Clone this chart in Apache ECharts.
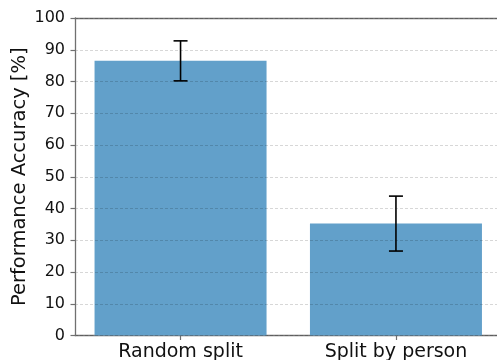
<!DOCTYPE html>
<html><head><meta charset="utf-8">
<script src="https://cdn.jsdelivr.net/npm/echarts@6/dist/echarts.min.js"></script>
<style>html,body{margin:0;padding:0;background:#fff}#c{width:497px;height:360px}</style>
</head><body><div id="c"></div>
<script>
const categories = ["Random split", "Split by person"];
const accuracy = [86.5, 35.3];
const errLow = [80.2, 26.6];
const errHigh = [92.8, 43.9];
const yTicks = [0, 10, 20, 30, 40, 50, 60, 70, 80, 90, 100];

const chart = echarts.init(document.getElementById('c'), null, {renderer: 'canvas'});
const font = 'DejaVu Sans';
const spine = {color: '#707070', width: 1.3};
const tick = {color: '#707070', width: 1.2};
chart.setOption({
  animation: false,
  grid: {left: 75, top: 18, width: 426.5, height: 317.5, show: false, outerBoundsMode: 'none', containLabel: false},
  xAxis: [{
    type: 'value', min: -0.49, max: 1.49,
    axisLine: {show: true, onZero: false, lineStyle: spine},
    splitLine: {show: false},
    axisTick: {show: true, customValues: [0, 1], length: 4.5, lineStyle: tick},
    axisLabel: {customValues: [0, 1], formatter: v => categories[Math.round(v)] || '', fontFamily: font, fontSize: 19, color: '#111', margin: 7}
  }, {
    type: 'value', position: 'top', min: -0.49, max: 1.49,
    axisLine: {show: true, onZero: false, lineStyle: spine},
    axisTick: {show: false}, axisLabel: {show: false}, splitLine: {show: false}
  }],
  yAxis: {
    type: 'value', min: 0, max: 100, interval: 10, z: 5,
    name: 'Performance Accuracy [%]', nameLocation: 'middle', nameGap: 45, nameMoveOverlap: false,
    nameTextStyle: {fontFamily: font, fontSize: 19.5, color: '#111'},
    axisLine: {show: true, onZero: false, lineStyle: spine},
    axisTick: {show: true, length: 4.5, lineStyle: tick},
    axisLabel: {fontFamily: font, fontSize: 16, color: '#111', margin: 10,
      formatter: v => yTicks.includes(v) ? String(v) : ''},
    splitLine: {show: true, lineStyle: {color: 'rgba(0,0,0,0.2)', type: [3, 2], width: 0.8}}
  },
  series: [
    {
      type: 'bar', barWidth: 172,
      itemStyle: {color: '#62a0ca'},
      data: accuracy.map((v, i) => [i, v])
    },
    {
      type: 'custom', z: 10,
      data: categories.map((c, i) => [i, errLow[i], errHigh[i]]),
      renderItem: function (params, api) {
        const x = api.value(0);
        const lo = api.coord([x, api.value(1)]);
        const hi = api.coord([x, api.value(2)]);
        const hw = 7;
        const st = {stroke: '#000', lineWidth: 1.6};
        return {type: 'group', children: [
          {type: 'line', shape: {x1: lo[0], y1: lo[1], x2: hi[0], y2: hi[1]}, style: st},
          {type: 'line', shape: {x1: lo[0] - hw, y1: lo[1], x2: lo[0] + hw, y2: lo[1]}, style: st},
          {type: 'line', shape: {x1: hi[0] - hw, y1: hi[1], x2: hi[0] + hw, y2: hi[1]}, style: st}
        ]};
      }
    }
  ]
});
</script></body></html>
